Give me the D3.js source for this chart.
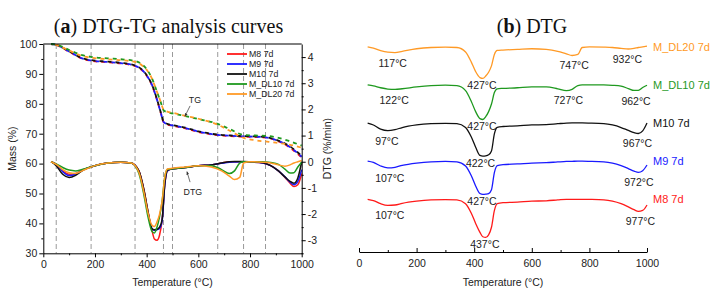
<!DOCTYPE html>
<html>
<head>
<meta charset="utf-8">
<script src="https://cdn.jsdelivr.net/npm/d3@7"></script>
<style>
  body { margin: 0; background: #fff; }
  text { font-family: "Liberation Sans", Arial, sans-serif; }
</style>
</head>
<body>
<div id="chart"></div>
<script>
// ---- data ----
const seriesNames = ['M8 7d', 'M9 7d', 'M10 7d', 'M_DL10 7d', 'M_DL20 7d'];
const seriesColors = ['#ff1a1a', '#1a1aff', '#111111', '#1f991f', '#ff9a26'];

// DTG (%/min) sampled on these temperatures
const dtgTemps = [30, 50, 75, 100, 125, 150, 200, 250, 300, 340, 370, 390, 405, 420, 430, 440, 450, 460, 470, 480,
  500, 550, 600, 650, 690, 720, 740, 760, 775, 800, 850, 880, 910, 935, 955, 970, 985, 1000];
const dtgM8 = [0, -0.1, -0.35, -0.48, -0.45, -0.32, -0.15, -0.05, -0.02, -0.05, -0.35, -1.1, -1.9, -2.6, -2.95, -3.0, -2.8, -2.2, -0.9, -0.35,
  -0.27, -0.22, -0.15, -0.12, -0.05, 0, 0, 0, 0, -0.01, -0.05, -0.15, -0.35, -0.6, -0.82, -0.95, -0.88, -0.45];
const dtgM9 = [0, -0.1, -0.38, -0.53, -0.48, -0.33, -0.15, -0.05, -0.02, -0.05, -0.38, -1.15, -1.95, -2.55, -2.62, -2.6, -2.55, -2.25, -0.9, -0.35,
  -0.27, -0.22, -0.15, -0.12, -0.06, -0.02, -0.01, 0, 0, -0.01, -0.05, -0.15, -0.35, -0.58, -0.78, -0.88, -0.75, -0.3];
const dtgM10 = [0, -0.15, -0.48, -0.6, -0.52, -0.35, -0.15, -0.05, -0.02, -0.05, -0.35, -1.1, -1.9, -2.55, -2.6, -2.58, -2.5, -2.2, -0.85, -0.33,
  -0.27, -0.22, -0.15, -0.12, -0.05, 0, 0.01, 0.01, 0.01, 0, -0.04, -0.15, -0.35, -0.58, -0.75, -0.82, -0.62, 0];
const dtgDL10 = [0, -0.08, -0.22, -0.32, -0.35, -0.3, -0.15, -0.05, -0.02, -0.05, -0.45, -1.3, -2.1, -2.65, -2.72, -2.5, -2.1, -1.5, -0.6, -0.3,
  -0.27, -0.22, -0.15, -0.15, -0.3, -0.45, -0.35, -0.05, 0, 0, 0, -0.03, -0.1, -0.28, -0.43, -0.42, -0.2, -0.02];
const dtgDL20 = [0, -0.1, -0.3, -0.42, -0.45, -0.35, -0.15, -0.05, -0.02, -0.05, -0.4, -1.2, -1.95, -2.42, -2.48, -2.3, -2.0, -1.5, -0.6, -0.28,
  -0.25, -0.2, -0.15, -0.2, -0.35, -0.55, -0.68, -0.6, -0.05, 0, -0.02, -0.05, -0.12, -0.17, -0.12, -0.05, 0, 0.05];

// TG mass (%) sampled on these temperatures
const tgTemps = [30, 50, 100, 150, 185, 250, 300, 355, 380, 400, 420, 440, 455, 465, 480, 500, 550, 600, 675, 725, 775, 820, 860, 900, 950, 1000];
const tgM8 = [100, 99.7, 97.4, 95.1, 94.4, 93.9, 93.5, 92.6, 91.4, 89.4, 86.3, 81.3, 76.8, 73.9, 73.1, 72.7, 71.8, 70.6, 69.5, 69.2, 69.0, 68.9, 68.7, 67.8, 65.6, 62.0];
const tgM9 = [100, 99.7, 97.5, 95.2, 94.5, 94.0, 93.6, 92.7, 91.5, 89.5, 86.4, 81.4, 76.9, 74.0, 73.2, 72.8, 71.9, 70.7, 69.6, 69.3, 69.1, 69.0, 68.8, 67.9, 65.8, 62.3];
const tgM10 = [100, 99.7, 97.6, 95.3, 94.6, 94.1, 93.7, 92.8, 91.6, 89.6, 86.5, 81.5, 77.0, 74.1, 73.3, 72.9, 72.0, 70.8, 69.7, 69.4, 69.2, 69.1, 68.9, 68.0, 66.0, 62.6];
const tgDL10 = [100, 99.8, 98.0, 96.3, 95.7, 95.2, 94.9, 94.3, 93.3, 91.6, 88.6, 84.0, 80.4, 77.9, 77.2, 76.8, 75.9, 74.9, 73.3, 71.4, 69.6, 69.4, 69.3, 68.8, 67.6, 66.0];
const tgDL20 = [100, 99.7, 97.8, 96.0, 95.4, 94.9, 94.6, 94.0, 93.0, 91.4, 88.5, 84.0, 80.5, 78.1, 77.4, 77.0, 76.0, 75.0, 73.0, 70.8, 68.6, 67.8, 67.4, 67.0, 66.4, 65.3];

// vertical guide temperatures in panel (a)
const guideTemps = [50, 185, 355, 465, 500, 675, 775, 860];

// panel (b): vertical stacking offsets (DTG units) and peak temperatures
const stackOffsets = [0, 3, 6, 9, 12];
const peaksM8 = [107, 437, 977];
const peaksM9 = [107, 427, 972];
const peaksM10 = [97, 422, 967];
const peaksDL10 = [122, 427, 727, 962];
const peaksDL20 = [117, 427, 747, 932];

// tick values
const tempTicks = [0, 200, 400, 600, 800, 1000];
const tempMinor = [100, 300, 500, 700, 900];
const massTicks = [30, 40, 50, 60, 70, 80, 90, 100];
const massMinor = [35, 45, 55, 65, 75, 85, 95];
const dtgTicks = [-3, -2, -1, 0, 1, 2, 3, 4];
const dtgMinor = [-3.5, -2.5, -1.5, -0.5, 0.5, 1.5, 2.5, 3.5];

const dtgAll = [dtgM8, dtgM9, dtgM10, dtgDL10, dtgDL20];
const tgAll = [tgM8, tgM9, tgM10, tgDL10, tgDL20];
const peaksAll = [peaksM8, peaksM9, peaksM10, peaksDL10, peaksDL20];
// dash phase so overlapping dashed curves alternate colours
const dashPhase = [2, 0, 4, 0, 4];

const width = 718, height = 299;
const axisFont = 10.5;
const svg = d3.select('#chart').append('svg')
  .attr('width', width)
  .attr('height', height);

const defs = svg.append('defs');
defs.append('marker')
  .attr('id', 'arrow')
  .attr('viewBox', '0 0 10 10')
  .attr('refX', 9).attr('refY', 5)
  .attr('markerWidth', 5).attr('markerHeight', 5)
  .attr('orient', 'auto')
  .append('path')
  .attr('d', 'M0,1 L10,5 L0,9 Z')
  .attr('fill', '#333');

const fmtMinus = d => (d < 0 ? '-' + Math.abs(d) : String(d));
const fmtInt = d3.format('d');

// ================= panel (a) =================
const x = d3.scaleLinear().domain([0, 1000]).range([43.3, 301.7]);
const yMass = d3.scaleLinear().domain([30, 100]).range([253.3, 44]);
const yDtg = d3.scaleLinear().domain([-3.5, 4.5]).range([253.3, 44]);

// guide lines
svg.append('g').selectAll('line')
  .data(guideTemps)
  .enter().append('line')
  .attr('x1', d => x(d)).attr('x2', d => x(d))
  .attr('y1', yMass(100)).attr('y2', yMass(30))
  .attr('stroke', '#9a9a9a')
  .attr('stroke-width', 1)
  .attr('stroke-dasharray', '5,3');

// TG dashed lines
const tgLine = d3.line()
  .x((d, i) => x(tgTemps[i]))
  .y(d => yMass(d))
  .curve(d3.curveMonotoneX);

svg.append('g').selectAll('path')
  .data(tgAll)
  .enter().append('path')
  .attr('d', tgLine)
  .attr('fill', 'none')
  .attr('stroke', (d, i) => seriesColors[i])
  .attr('stroke-width', 1.8)
  .attr('stroke-dasharray', '4,4')
  .attr('stroke-dashoffset', (d, i) => dashPhase[i]);

// DTG solid lines
const dtgLine = d3.line()
  .x((d, i) => x(dtgTemps[i]))
  .y(d => yDtg(d))
  .curve(d3.curveMonotoneX);

svg.append('g').selectAll('path')
  .data(dtgAll)
  .enter().append('path')
  .attr('d', dtgLine)
  .attr('fill', 'none')
  .attr('stroke', (d, i) => seriesColors[i])
  .attr('stroke-width', 1.5);

// axes
function styleAxis(g) {
  g.attr('font-size', axisFont).attr('font-family', null);
  g.selectAll('text').attr('fill', '#222');
}

svg.append('g')
  .attr('transform', 'translate(0,' + yMass(30) + ')')
  .call(d3.axisBottom(x).tickValues(tempTicks).tickSize(4).tickSizeOuter(0).tickPadding(3).tickFormat(fmtInt))
  .call(styleAxis);
svg.append('g')
  .attr('transform', 'translate(0,' + yMass(30) + ')')
  .call(d3.axisBottom(x).tickValues(tempMinor).tickSize(2).tickFormat(''))
  .call(g => g.select('.domain').remove());

svg.append('g')
  .attr('transform', 'translate(' + x(0) + ',0)')
  .call(d3.axisLeft(yMass).tickValues(massTicks).tickSize(4).tickSizeOuter(0).tickPadding(2))
  .call(styleAxis);
svg.append('g')
  .attr('transform', 'translate(' + x(0) + ',0)')
  .call(d3.axisLeft(yMass).tickValues(massMinor).tickSize(2).tickFormat(''))
  .call(g => g.select('.domain').remove());

svg.append('g')
  .attr('transform', 'translate(' + x(1000) + ',0)')
  .call(d3.axisRight(yDtg).tickValues(dtgTicks).tickSize(4).tickSizeOuter(0).tickPadding(2).tickFormat(fmtMinus))
  .call(styleAxis);
svg.append('g')
  .attr('transform', 'translate(' + x(1000) + ',0)')
  .call(d3.axisRight(yDtg).tickValues(dtgMinor).tickSize(2).tickFormat(''))
  .call(g => g.select('.domain').remove());

// top frame
svg.append('line')
  .attr('x1', x(0)).attr('x2', x(1000))
  .attr('y1', yMass(100)).attr('y2', yMass(100))
  .attr('stroke', '#000');

// axis titles
svg.append('text')
  .attr('x', (x(0) + x(1000)) / 2).attr('y', 286)
  .attr('text-anchor', 'middle').attr('font-size', axisFont).attr('fill', '#222')
  .text('Temperature (°C)');
svg.append('text')
  .attr('transform', 'translate(16,' + (yMass(30) + yMass(100)) / 2 + ') rotate(-90)')
  .attr('text-anchor', 'middle').attr('font-size', axisFont).attr('fill', '#222')
  .text('Mass (%)');
svg.append('text')
  .attr('transform', 'translate(331,' + (yMass(30) + yMass(100)) / 2 + ') rotate(-90)')
  .attr('text-anchor', 'middle').attr('font-size', axisFont).attr('fill', '#222')
  .text('DTG (%/min)');

// legend
const legend = svg.append('g');
seriesNames.forEach((name, i) => {
  const ly = 54 + i * 10;
  legend.append('line')
    .attr('x1', 227).attr('x2', 247).attr('y1', ly).attr('y2', ly)
    .attr('stroke', seriesColors[i]).attr('stroke-width', 1.8);
  legend.append('text')
    .attr('x', 249).attr('y', ly).attr('dy', '0.35em')
    .attr('font-size', 8.8).attr('fill', '#222')
    .text(name);
});

// TG / DTG annotations with arrows
svg.append('text')
  .attr('x', x(587)).attr('y', yMass(81.3)).attr('dy', '0.35em')
  .attr('text-anchor', 'middle').attr('font-size', 8.8).attr('fill', '#222')
  .text('TG');
svg.append('line')
  .attr('x1', x(568)).attr('y1', yMass(79.3))
  .attr('x2', x(548)).attr('y2', yMass(75.8))
  .attr('stroke', '#333').attr('stroke-width', 0.7)
  .attr('marker-end', 'url(#arrow)');
svg.append('text')
  .attr('x', x(579)).attr('y', yDtg(-1.16)).attr('dy', '0.35em')
  .attr('text-anchor', 'middle').attr('font-size', 8.8).attr('fill', '#222')
  .text('DTG');
svg.append('line')
  .attr('x1', x(568)).attr('y1', yDtg(-0.78))
  .attr('x2', x(556)).attr('y2', yDtg(-0.38))
  .attr('stroke', '#333').attr('stroke-width', 0.7)
  .attr('marker-end', 'url(#arrow)');

// title (a)
const titleA = svg.append('text')
  .attr('x', 168.5).attr('y', 33)
  .attr('text-anchor', 'middle')
  .style('font-family', '"Liberation Serif", "Times New Roman", serif')
  .attr('font-size', 20).attr('fill', '#111');
titleA.append('tspan').text('(');
titleA.append('tspan').attr('font-weight', 'bold').text('a');
titleA.append('tspan').text(') DTG-TG analysis curves');

// ================= panel (b) =================
const xR = d3.scaleLinear().domain([0, 1000]).range([359, 647]);
const yR = d3.scaleLinear().domain([-4.15, 12.5]).range([252, 40.5]);

function valueAt(arr, t) {
  const i = Math.min(Math.max(d3.bisectLeft(dtgTemps, t), 1), dtgTemps.length - 1);
  const t0 = dtgTemps[i - 1], t1 = dtgTemps[i];
  const f = (t - t0) / (t1 - t0);
  return arr[i - 1] + (arr[i] - arr[i - 1]) * f;
}

dtgAll.forEach((vals, s) => {
  const off = stackOffsets[s];
  const line = d3.line()
    .x((d, i) => xR(dtgTemps[i]))
    .y(d => yR(d + off))
    .curve(d3.curveMonotoneX);

  svg.append('path')
    .datum(vals)
    .attr('d', line)
    .attr('fill', 'none')
    .attr('stroke', seriesColors[s])
    .attr('stroke-width', 1.3);

  // series label at the right end
  svg.append('text')
    .attr('x', xR(1000) + 6).attr('y', yR(off)).attr('dy', '0.35em')
    .attr('font-size', 11).attr('fill', seriesColors[s])
    .text(seriesNames[s]);

  // peak temperature labels
  peaksAll[s].forEach(t => {
    const v = valueAt(vals, t);
    svg.append('text')
      .attr('x', xR(t))
      .attr('y', yR(v + off) + (v < -1 ? 7.5 : 10.5))
      .attr('dy', '0.35em')
      .attr('text-anchor', 'middle')
      .attr('font-size', axisFont).attr('fill', '#222')
      .text(t + '°C');
  });
});

svg.append('g')
  .attr('transform', 'translate(0,252)')
  .call(d3.axisBottom(xR).tickValues(tempTicks).tickSize(-4).tickSizeOuter(0).tickPadding(8).tickFormat(fmtInt))
  .call(styleAxis);
svg.append('g')
  .attr('transform', 'translate(0,252)')
  .call(d3.axisBottom(xR).tickValues(tempMinor).tickSize(-2).tickFormat(''))
  .call(g => g.select('.domain').remove());

svg.append('text')
  .attr('x', (xR(0) + xR(1000)) / 2).attr('y', 286)
  .attr('text-anchor', 'middle').attr('font-size', axisFont).attr('fill', '#222')
  .text('Temperature (°C)');

const titleB = svg.append('text')
  .attr('x', 532).attr('y', 33)
  .attr('text-anchor', 'middle')
  .style('font-family', '"Liberation Serif", "Times New Roman", serif')
  .attr('font-size', 20).attr('fill', '#111');
titleB.append('tspan').text('(');
titleB.append('tspan').attr('font-weight', 'bold').text('b');
titleB.append('tspan').text(') DTG');
</script>
</body>
</html>
